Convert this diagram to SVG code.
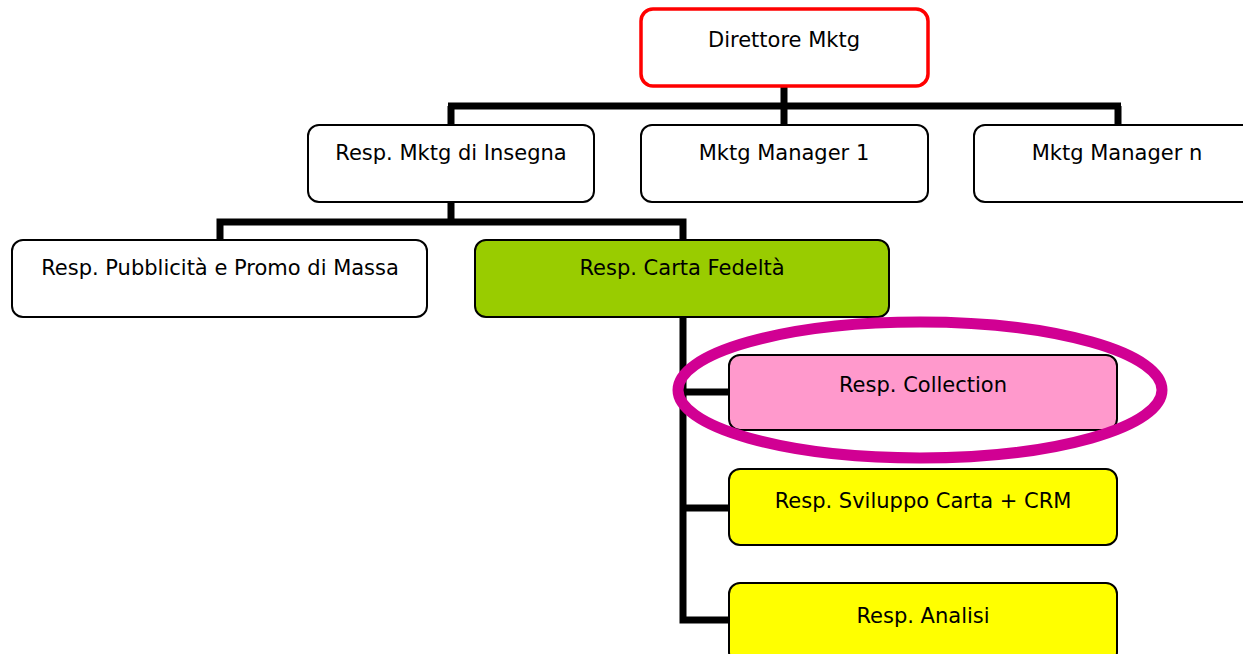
<svg xmlns="http://www.w3.org/2000/svg" width="1243" height="654" viewBox="0 0 1243 654">
<style>
.n{stroke:#000;stroke-width:2;}
.w{fill:#fff;}
.t{font-family:"DejaVu Sans",Verdana,sans-serif;font-size:21px;fill:#000;text-anchor:middle;}
.c{fill:none;stroke:#000;stroke-width:7;}
</style>
<rect width="1243" height="654" fill="#fff"/>
<g id="connectors">
<path class="c" d="M784 86V125M448 106H1121M451 106V125M1118 106V125"/>
<path class="c" d="M451 202V222M216.5 222H686.5M220 222V240M683 222V240"/>
<path class="c" d="M683 317V620M683 392H729M683 508H729M679.5 620H729"/>
</g>
<g id="n-direttore">
<rect x="641" y="9" width="287" height="77" rx="12" fill="#fff" stroke="#f00" stroke-width="3.5"/>
<text class="t" x="784" y="47">Direttore Mktg</text>
</g>
<g id="n-insegna">
<rect class="n w" x="308" y="125" width="286" height="77" rx="11"/>
<text class="t" x="451" y="160">Resp. Mktg di Insegna</text>
</g>
<g id="n-manager1">
<rect class="n w" x="641" y="125" width="287" height="77" rx="11"/>
<text class="t" x="784" y="160">Mktg Manager 1</text>
</g>
<g id="n-managern">
<rect class="n w" x="974" y="125" width="287" height="77" rx="11"/>
<text class="t" x="1117" y="160">Mktg Manager n</text>
</g>
<g id="n-pubblicita">
<rect class="n w" x="12" y="240" width="415" height="77" rx="11"/>
<text class="t" x="220" y="275">Resp. Pubblicità e Promo di Massa</text>
</g>
<g id="n-carta">
<rect class="n" x="475" y="240" width="414" height="77" rx="11" fill="#99cc00"/>
<text class="t" x="682" y="275">Resp. Carta Fedeltà</text>
</g>
<g id="n-collection">
<rect class="n" x="729" y="355" width="388" height="75" rx="11" fill="#ff99cc"/>
<text class="t" x="923" y="392">Resp. Collection</text>
</g>
<g id="n-sviluppo">
<rect class="n" x="729" y="469" width="388" height="76" rx="11" fill="#ffff00"/>
<text class="t" x="923" y="508">Resp. Sviluppo Carta + CRM</text>
</g>
<g id="n-analisi">
<rect class="n" x="729" y="583" width="388" height="80" rx="11" fill="#ffff00"/>
<text class="t" x="923" y="623">Resp. Analisi</text>
</g>
<ellipse id="highlight" cx="920" cy="390" rx="242" ry="68" fill="none" stroke="#d10093" stroke-width="11"/>
</svg>
